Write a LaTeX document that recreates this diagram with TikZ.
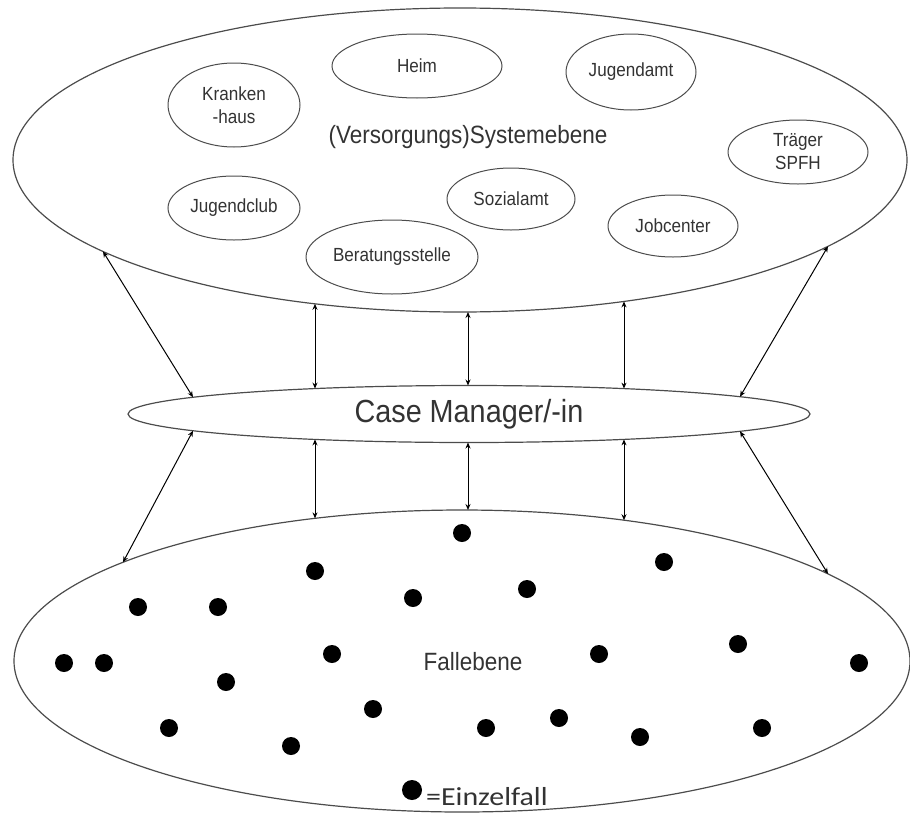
\documentclass[tikz,border=0pt]{standalone}
\usepackage{fontspec}
\setmainfont{Liberation Sans}[FakeStretch=0.9]
\newfontfamily\legendfont{Carlito}[FakeStretch=1.15]
\usetikzlibrary{arrows.meta,shapes.geometric,calc}
\tikzset{
  ebene/.style={ellipse, draw=black!70, line width=1.2pt, inner sep=0pt},
  stelle/.style={ellipse, draw=black!70, line width=1pt, inner sep=0pt, align=center,
    text=black!80, font=\fontsize{19}{23}\selectfont},
  titel/.style={text=black!80, inner sep=0pt},
  pfeil/.style={line width=1pt, {Stealth[length=6pt,width=5pt]}-{Stealth[length=6pt,width=5pt]}}
}
\begin{document}
\begin{tikzpicture}[x=1pt,y=-1pt]
    \useasboundingbox (0,0) rectangle (910,814);
    % die drei Ebenen
    \node[ebene, minimum width=894pt, minimum height=304pt] (sys) at (460,160) {};
    \node[ebene, minimum width=682pt, minimum height=57pt, text=black!80,
      font=\fontsize{32}{36}\selectfont] (cm) at (469,414) {Case Manager/-in};
    \node[ebene, minimum width=896pt, minimum height=302pt] (fall) at (462,661) {};
    \node[titel, font=\fontsize{25}{28}\selectfont] (systitel) at (468,137) {(Versorgungs)Systemebene};
    \node[titel, font=\fontsize{25}{28}\selectfont] (falltitel) at (473,662) {Fallebene};
    % Einrichtungen
    \node[stelle, minimum width=132pt, minimum height=84pt] (kh) at (234,105) {Kranken\\-haus};
    \node[stelle, minimum width=170pt, minimum height=64pt] (heim) at (417,66) {Heim};
    \node[stelle, minimum width=130pt, minimum height=76pt] (ja) at (631,72) {Jugendamt};
    \node[stelle, minimum width=140pt, minimum height=64pt] (spfh) at (798,152) {Träger\\SPFH};
    \node[stelle, minimum width=132pt, minimum height=64pt] (jc) at (234,208) {Jugendclub};
    \node[stelle, minimum width=128pt, minimum height=62pt] (sa) at (511,199) {Sozialamt};
    \node[stelle, minimum width=172pt, minimum height=74pt] (bs) at (392,257) {Beratungsstelle};
    \node[stelle, minimum width=130pt, minimum height=62pt] (job) at (673,226) {Jobcenter};
    % Pfeile, Enden auf dem Rand der Ellipsen
    \foreach \a/\b in {103/193,315/315,468/468,624/624,828/740} {
        \draw[pfeil] ($(sys)+({\a-460},{152*sqrt(1-((\a-460)/447)^2)})$)
            -- ($(cm)+({\b-469},{-28.5*sqrt(1-((\b-469)/341)^2)})$);
    }
    \foreach \a/\b in {193/123,315/315,468/468,624/624,740/828} {
        \draw[pfeil] ($(cm)+({\a-469},{28.5*sqrt(1-((\a-469)/341)^2)})$)
            -- ($(fall)+({\b-462},{-151*sqrt(1-((\b-462)/448)^2)})$);
    }
    % Einzelfaelle
    \foreach \p in {(462,533),(315,571),(664,562),(413,598),(527,589),(138,607),(218,607),
        (64,663),(104,663),(332,654),(599,654),(738,644),(859,663),(226,682),(373,709),
        (169,728),(291,746),(486,728),(559,718),(640,737),(762,728)}
        \fill \p circle (9pt);
    \fill (412,790) circle (10pt);
    \node[titel, anchor=west, font=\legendfont\fontsize{26}{28}\selectfont] (legende) at (426,797) {=Einzelfall};
\end{tikzpicture}
\end{document}
